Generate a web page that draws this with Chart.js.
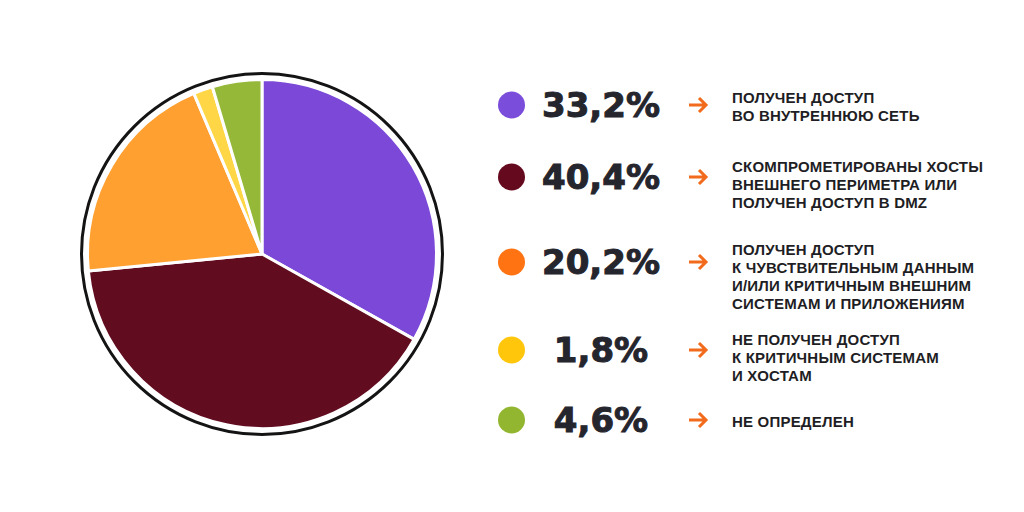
<!DOCTYPE html>
<html lang="ru">
<head>
<meta charset="utf-8">
<script src="https://cdn.jsdelivr.net/npm/chart.js@4"></script>
<style>
    html, body { margin: 0; padding: 0; background: #fff; }
    body { width: 1024px; height: 512px; position: relative; overflow: hidden; font-family: "DejaVu Sans", sans-serif; }
    #pieBox { position: absolute; left: 76px; top: 68px; width: 372px; height: 372px; }
    .dot { position: absolute; width: 27px; height: 27px; border-radius: 50%; left: 498px; transform: translateY(-50%); }
    .pct { position: absolute; left: 540px; width: 122px; text-align: center; font-weight: bold; font-size: 34px; line-height: 34px; color: #25252d; -webkit-text-stroke: 1px #25252d; transform: translateY(-50%); white-space: nowrap; }
    .arrow { position: absolute; left: 686px; width: 24px; height: 20px; transform: translateY(-50%); }
    .txt { position: absolute; left: 732px; font-family: "Liberation Sans", Arial, sans-serif; font-weight: bold; font-size: 15px; line-height: 18px; letter-spacing: 0.2px; color: #1e1e24; white-space: pre-line; }
</style>
</head>
<body>
<div id="pieBox"><canvas id="pieChart"></canvas></div>
<div id="legend"></div>
<script>
// Данные диаграммы
const categories = [
    'ПОЛУЧЕН ДОСТУП\nВО ВНУТРЕННЮЮ СЕТЬ',
    'СКОМПРОМЕТИРОВАНЫ ХОСТЫ\nВНЕШНЕГО ПЕРИМЕТРА ИЛИ\nПОЛУЧЕН ДОСТУП В DMZ',
    'ПОЛУЧЕН ДОСТУП\nК ЧУВСТВИТЕЛЬНЫМ ДАННЫМ\nИ/ИЛИ КРИТИЧНЫМ ВНЕШНИМ\nСИСТЕМАМ И ПРИЛОЖЕНИЯМ',
    'НЕ ПОЛУЧЕН ДОСТУП\nК КРИТИЧНЫМ СИСТЕМАМ\nИ ХОСТАМ',
    'НЕ ОПРЕДЕЛЕН'
];
const values = [33.2, 40.4, 20.2, 1.8, 4.6];
const pieColors = ['#7b48d8', '#620c20', '#ffa030', '#ffd645', '#95b838'];
const dotColors = ['#7b4ddb', '#650a1e', '#ff7313', '#ffc60c', '#93b631'];

// Вертикальные позиции строк легенды
const rowY = [105, 177, 262, 350, 420];
const textTop = [89, 158, 241, 331, 413];

// Внешнее чёрное кольцо вокруг пирога
const ringPlugin = {
    id: 'ring',
    afterDatasetsDraw(chart) {
        const arc = chart.getDatasetMeta(0).data[0];
        if (!arc) return;
        const ctx = chart.ctx;
        ctx.save();
        ctx.beginPath();
        ctx.arc(arc.x, arc.y, arc.outerRadius + 6, 0, Math.PI * 2);
        ctx.lineWidth = 3;
        ctx.strokeStyle = '#141414';
        ctx.stroke();
        ctx.restore();
    }
};

const pieCtx = document.getElementById('pieChart').getContext('2d');
const pieChart = new Chart(pieCtx, {
    type: 'pie',
    data: {
        labels: categories,
        datasets: [{
            data: values,
            backgroundColor: pieColors,
            borderColor: '#ffffff',
            borderWidth: 3
        }]
    },
    options: {
        responsive: true,
        maintainAspectRatio: false,
        animation: false,
        layout: { padding: 10 },
        plugins: {
            legend: { display: false },
            tooltip: { enabled: false }
        }
    },
    plugins: [ringPlugin]
});

// Легенда справа
const legend = document.getElementById('legend');
const arrowSvg = '<svg width="24" height="20" viewBox="0 0 24 20"><path d="M3 10 H20 M13 3 L20 10 L13 17" fill="none" stroke="#f26a1b" stroke-width="3" stroke-linecap="butt" stroke-linejoin="miter"/></svg>';
categories.forEach(function(label, i) {
    const dot = document.createElement('div');
    dot.className = 'dot';
    dot.style.top = rowY[i] + 'px';
    dot.style.background = dotColors[i];
    legend.appendChild(dot);

    const pct = document.createElement('div');
    pct.className = 'pct';
    pct.style.top = rowY[i] + 'px';
    pct.textContent = values[i].toFixed(1).replace('.', ',') + '%';
    legend.appendChild(pct);

    const arrow = document.createElement('div');
    arrow.className = 'arrow';
    arrow.style.top = rowY[i] + 'px';
    arrow.innerHTML = arrowSvg;
    legend.appendChild(arrow);

    const txt = document.createElement('div');
    txt.className = 'txt';
    txt.style.top = textTop[i] + 'px';
    txt.textContent = label;
    legend.appendChild(txt);
});
</script>
</body>
</html>
